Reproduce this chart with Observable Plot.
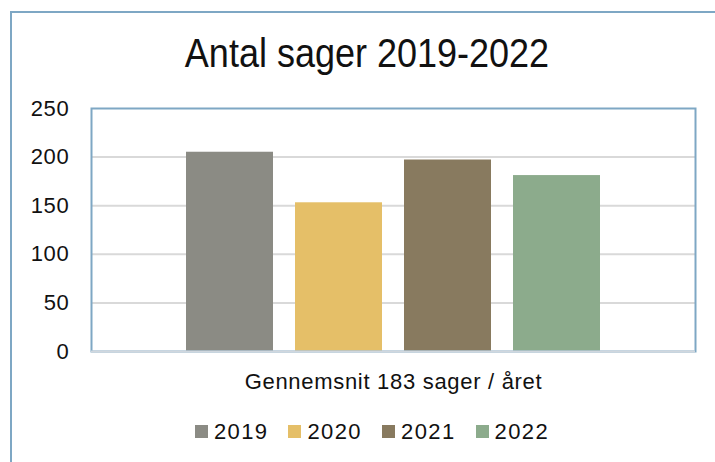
<!DOCTYPE html>
<html>
<head>
<meta charset="utf-8">
<script src="https://cdn.jsdelivr.net/npm/d3@7"></script>
<script src="https://cdn.jsdelivr.net/npm/@observablehq/plot@0.6"></script>
<style>
  html, body { margin: 0; padding: 0; background: #fff; }
  #wrap { position: relative; width: 715px; height: 462px; overflow: hidden; font-family: "Liberation Sans", Arial, sans-serif; }
  #border { position: absolute; left: 10px; top: 11px; width: 720px; height: 470px; border-left: 2px solid #7ea7c4; border-top: 2px solid #7ea7c4; box-sizing: border-box; }
  #title { position: absolute; left: 0; width: 734px; top: 29px; text-align: center; font-family: "Liberation Sans", Arial, sans-serif; font-size: 40px; color: #111; line-height: 48px; transform: scaleX(0.9); transform-origin: 367px 0; }
  #chart { position: absolute; left: 0; top: 80px; }
  #chart svg text { letter-spacing: 0.7px; }
  #legend { position: absolute; left: 0; width: 744px; top: 419px; text-align: center; font-size: 22px; color: #111; line-height: 26px; white-space: nowrap; }
  .item { display: inline-block; margin: 0 10px; letter-spacing: 1.4px; }
  .sw { display: inline-block; width: 13px; height: 13px; margin-right: 6px; vertical-align: 1px; }
</style>
</head>
<body>
<div id="wrap">
  <div id="border"></div>
  <div id="title"></div>
  <div id="chart"></div>
  <div id="legend"></div>
</div>
<script>
const titleText = "Antal sager 2019-2022";
const categoryLabel = "Gennemsnit 183 sager / året";
const years = ["2019", "2020", "2021", "2022"];
const values = [205, 153, 197, 181];
const colors = ["#8b8b84", "#e5bf68", "#887a5f", "#8cab8c"];
const yTicks = [0, 50, 100, 150, 200, 250];

const data = years.map((y, i) => ({year: y, value: values[i]}));

document.getElementById("title").textContent = titleText;

const chart = Plot.plot({
  width: 715,
  height: 320,
  marginLeft: 91,
  marginRight: 20,
  marginTop: 28,
  marginBottom: 49,
  style: {fontFamily: "'Liberation Sans', Arial, sans-serif", fontSize: "22px", color: "#111", background: "transparent"},
  x: {type: "band", domain: years, range: [174, 612], paddingInner: 0.2, paddingOuter: 0.1},
  y: {domain: [0, 250]},
  color: {domain: years, range: colors},
  marks: [
    Plot.gridY(yTicks.filter(d => d > 0 && d < 250), {stroke: "#d9d9d9", strokeOpacity: 1, strokeWidth: 2}),
    Plot.barY(data, {x: "year", y: "value", fill: "year"}),
    Plot.frame({stroke: "#7ea7c4", strokeWidth: 2}),
    Plot.ruleY([0], {stroke: "#d0d7de", strokeWidth: 2}),
    Plot.axisY({ticks: yTicks, tickSize: 0, tickPadding: 22, label: null}),
    Plot.axisX({tickSize: 0, tickFormat: () => "", label: categoryLabel, labelAnchor: "center", labelOffset: 37})
  ]
});
document.getElementById("chart").appendChild(chart);

const legend = document.getElementById("legend");
years.forEach((y, i) => {
  const item = document.createElement("span");
  item.className = "item";
  const sw = document.createElement("span");
  sw.className = "sw";
  sw.style.background = colors[i];
  item.appendChild(sw);
  item.appendChild(document.createTextNode(y));
  legend.appendChild(item);
});
</script>
</body>
</html>
